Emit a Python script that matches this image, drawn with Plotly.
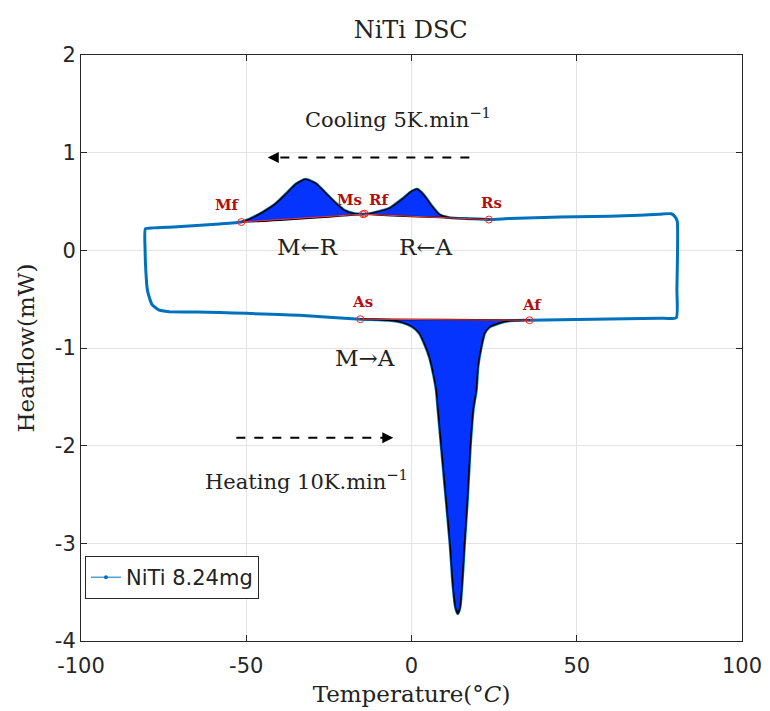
import plotly.graph_objects as go

# ---- data ----
# full DSC loop: heating (bottom, left->right), then cooling (top, right->left)
heat_T = [-73.2, -65, -58, -50, -40, -33.9, -25, -15.5, -10, -6.7, -2.6, 0.4, 2.4, 3.9, 5.4, 6.4, 7.5,
          8.0, 9.0, 10.5, 11.7, 12.5, 13.3, 14.0, 14.7, 15.3, 16.0, 16.9, 17.8, 18.7, 19.6, 20.1, 21.1,
          22.1, 23.6, 26.6, 29.7, 35.7, 45, 55, 65, 75, 80.1]
heat_H = [-0.63, -0.632, -0.636, -0.645, -0.658, -0.665, -0.685, -0.705, -0.71, -0.716, -0.74, -0.785,
          -0.85, -0.955, -1.09, -1.23, -1.43, -1.62, -2.0, -2.56, -3.02, -3.41, -3.65, -3.72, -3.65,
          -3.41, -3.02, -2.56, -2.0, -1.62, -1.43, -1.19, -0.99, -0.85, -0.785, -0.744, -0.72, -0.716,
          -0.71, -0.705, -0.70, -0.695, -0.69]
right_T = [80.3, 80.5, 80.4, 79.6]
right_H = [-0.4, 0.0, 0.3, 0.35]
cool_T = [78.6, 75, 69, 60, 50, 40, 29.6, 23.4, 17.5, 11.5, 8.5, 6.0, 3.9, 1.7, -0.1, -2.6, -6.7,
          -12.7, -14.7, -17.2, -20.3, -22.8, -25.8, -28.8, -32.1, -34.9, -37.9, -41, -45, -49, -51.5,
          -58, -65, -72, -78, -80.5]
cool_H = [0.375, 0.37, 0.36, 0.35, 0.345, 0.335, 0.325, 0.315, 0.324, 0.335, 0.365, 0.46, 0.56, 0.625,
          0.60, 0.53, 0.43, 0.375, 0.37, 0.375, 0.41, 0.48, 0.58, 0.68, 0.727, 0.68, 0.58, 0.48, 0.39,
          0.32, 0.29, 0.27, 0.255, 0.24, 0.23, 0.22]
left_T = [-80.6, -80.4, -79.9, -78.6, -76.5, -73.2]
left_H = [0.0, -0.2, -0.41, -0.55, -0.61, -0.63]

# characteristic points
pt_names = ["Mf", "Ms", "Rf", "Rs", "As", "Af"]
pt_T = [-51.5, -14.7, -14.2, 23.4, -15.5, 35.7]
pt_H = [0.29, 0.37, 0.375, 0.315, -0.705, -0.716]
lbl_T = [-55.7, -18.8, -9.7, 24.2, -14.8, 36.6]
lbl_H = [0.46, 0.52, 0.52, 0.48, -0.53, -0.56]

# peak ranges (start, end) of the filled areas
peak_ranges = [(-51.5, -14.7, "cool"), (-14.7, 23.4, "cool"), (-15.5, 35.7, "heat")]

# text labels
phase_txt = ["M\u2190R", "R\u2190A", "M\u2192A"]
phase_T = [-31.5, 4.5, -14.2]
phase_H = [0.03, 0.03, -1.1]

cool_arrow_T = [17.5, -43.5]
cool_arrow_H = [0.95, 0.95]
heat_arrow_T = [-53, -5.5]
heat_arrow_H = [-1.92, -1.92]

x_ticks = [-100, -50, 0, 50, 100]
y_ticks = [-4, -3, -2, -1, 0, 1, 2]

# ---- figure ----
loop_T = heat_T + right_T + cool_T + left_T + [heat_T[0]]
loop_H = heat_H + right_H + cool_H + left_H + [heat_H[0]]

serif = "DejaVu Serif"
sans = "DejaVu Sans"
mblue = "#0072BD"
dred = "#b00f0f"
txt = "#222222"

fig = go.Figure()
fig.add_trace(go.Scatter(x=loop_T, y=loop_H, mode="lines", showlegend=False,
                         line=dict(color=mblue, width=3, shape="spline", smoothing=0.5)))
# legend entry (thin line with a dot, as in the reference)
fig.add_trace(go.Scatter(x=[None], y=[None], mode="lines+markers", name="NiTi 8.24mg",
                         line=dict(color=mblue, width=1), marker=dict(size=4, color=mblue)))

for (a, b, which) in peak_ranges:
    T = cool_T if which == "cool" else heat_T
    H = cool_H if which == "cool" else heat_H
    lo, hi = min(a, b), max(a, b)
    xs = [t for t in T if lo <= t <= hi]
    ys = [h for t, h in zip(T, H) if lo <= t <= hi]
    fig.add_trace(go.Scatter(x=xs + [xs[0]], y=ys + [ys[0]], mode="lines", fill="toself",
                             fillcolor="#0533ff", line=dict(color="black", width=1.5, shape="spline",
                                                             smoothing=0.5),
                             showlegend=False, hoverinfo="skip"))
    fig.add_trace(go.Scatter(x=[xs[0], xs[-1]], y=[ys[0], ys[-1]], mode="lines",
                             line=dict(color="#ff3030", width=1), showlegend=False, hoverinfo="skip"))

fig.add_trace(go.Scatter(x=pt_T, y=pt_H, mode="markers", showlegend=False,
                         marker=dict(symbol="circle-open", size=7, color="#ff2020", line=dict(width=1))))

for n, x, y in zip(pt_names, lbl_T, lbl_H):
    fig.add_annotation(x=x, y=y, text="<b>%s</b>" % n, showarrow=False,
                       font=dict(family=serif, size=15, color=dred))
for n, x, y in zip(phase_txt, phase_T, phase_H):
    fig.add_annotation(x=x, y=y, text=n, showarrow=False, font=dict(family=serif, size=23, color=txt))

fig.add_annotation(x=-4.2, y=1.35, text="Cooling 5K.min<sup>\u22121</sup>", showarrow=False,
                   font=dict(family=serif, size=21, color=txt))
fig.add_annotation(x=-31.8, y=-2.35, text="Heating 10K.min<sup>\u22121</sup>", showarrow=False,
                   font=dict(family=serif, size=21, color=txt))

for AT, AH in [(cool_arrow_T, cool_arrow_H), (heat_arrow_T, heat_arrow_H)]:
    d = 1 if AT[1] > AT[0] else -1
    fig.add_shape(type="line", x0=AT[0], y0=AH[0], x1=AT[1] - d * 2, y1=AH[1],
                  line=dict(color="black", width=2, dash="dash"))
    fig.add_annotation(x=AT[1], y=AH[1], ax=AT[1] - d * 3, ay=AH[1], axref="x", ayref="y",
                       xref="x", yref="y", text="", showarrow=True, arrowhead=2, arrowsize=1.1,
                       arrowwidth=2, arrowcolor="black")

axis_common = dict(showgrid=True, gridcolor="#e3e3e3", gridwidth=1, zeroline=False, showline=True,
                   linecolor="#262626", linewidth=1, mirror="ticks", ticks="inside", ticklen=6,
                   tickcolor="#262626", automargin=False,
                   tickfont=dict(family=sans, size=21, color="#262626"))
fig.update_xaxes(range=[-100, 100], tickvals=x_ticks, ticktext=[str(v) for v in x_ticks], **axis_common,
                 ticklabelstandoff=6,
                 title=dict(text="Temperature(\u00b0<i>C</i>)", font=dict(family=serif, size=23, color=txt),
                            standoff=8))
fig.update_yaxes(range=[-4, 2], tickvals=y_ticks, ticktext=[str(v) for v in y_ticks], **axis_common,
                 title=dict(text="Heatflow(mW)", font=dict(family=serif, size=23, color=txt),
                            standoff=13))

fig.update_layout(width=770, height=711, margin=dict(l=73, r=36, t=47, b=78),
                  plot_bgcolor="white", paper_bgcolor="white",
                  title=dict(text="NiTi DSC", x=0.523, xanchor="center", y=0.969, yanchor="middle",
                             font=dict(family=serif, size=24, color=txt)),
                  legend=dict(x=0.006, y=0.145, xanchor="left", yanchor="top", bgcolor="white",
                              bordercolor="#262626", borderwidth=1,
                              font=dict(family=sans, size=21, color=txt)),
                  showlegend=True)

fig.write_html("out.html")
